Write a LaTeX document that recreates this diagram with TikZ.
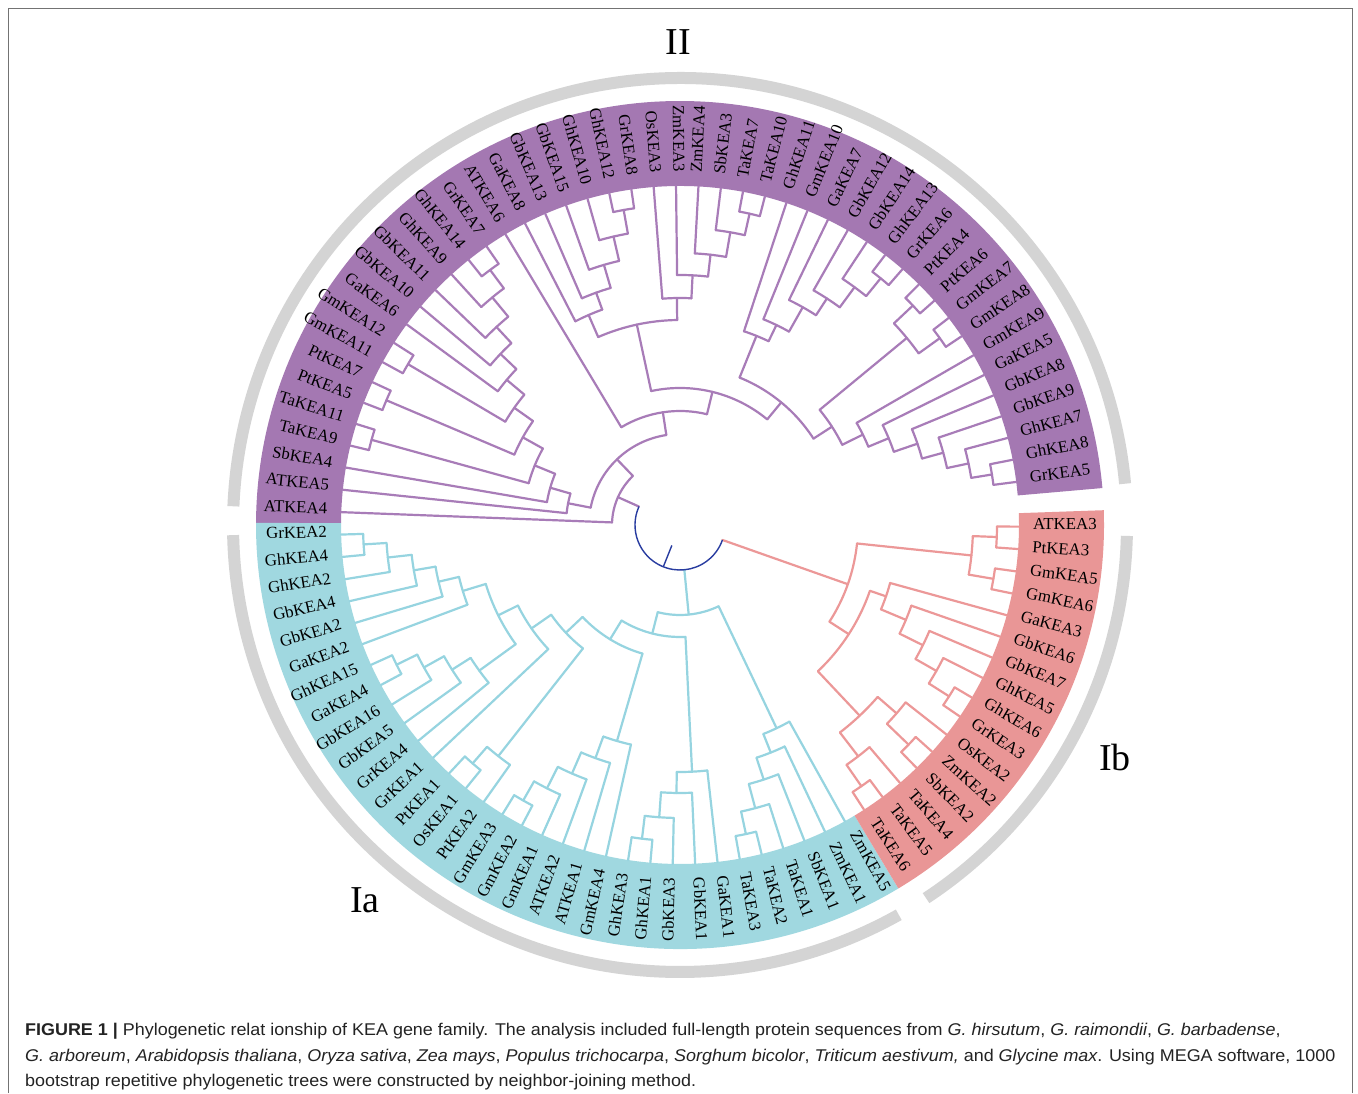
\documentclass[tikz,border=0pt]{standalone}
\usepackage{fontspec}
\setmainfont{Liberation Serif}
\newfontfamily\capfont{Liberation Sans}
\usepackage{graphicx}
\definecolor{purpB}{RGB}{164,120,178}
\definecolor{purpL}{RGB}{168,124,184}
\definecolor{cyanB}{RGB}{160,216,224}
\definecolor{cyanL}{RGB}{150,212,224}
\definecolor{pinkB}{RGB}{233,150,150}
\definecolor{pinkL}{RGB}{236,152,152}
\definecolor{rootB}{RGB}{40,60,160}
\definecolor{greyA}{RGB}{212,212,212}
\definecolor{capC}{RGB}{35,35,35}
\def\stp{3.78947}
\def\aoff{7.3}
\newcommand\tnd[4]{%
  \draw ({\aoff+\stp*(#2)}:#1pt) arc[start angle={\aoff+\stp*(#2)}, end angle={\aoff+\stp*(#3)}, radius=#1pt];
  \foreach \kk/\rr in {#4}{\draw ({\aoff+\stp*\kk}:#1pt) -- ({\aoff+\stp*\kk}:\rr pt);}%
}
\tikzset{
  lbl/.style={inner sep=0pt, font=\fontsize{16.8}{18}\selectfont, text=black},
  tree/.style={line width=2.2pt, line cap=round, line join=round},
  grarc/.style={draw=greyA, line width=12pt},
  clade/.style={font=\fontsize{38}{40}\selectfont, text=black, inner sep=0pt},
  captxt/.style={font=\capfont\fontsize{17}{20}\selectfont, text=capC, inner sep=0pt, anchor=base west}
}
\begin{document}
\begin{tikzpicture}[x=1pt,y=1pt]
\useasboundingbox (0,0) rectangle (1358,1093);
\fill[white] (0,0) rectangle (1358,1093);
% frame
\draw[line width=1pt, draw=black!55] (8,0) -- (8,1084) -- (1352,1084) -- (1352,0);
\begin{scope}[shift={(680,568)}]
% bands
\fill[purpB] (5.0:339pt) arc[start angle=5.0,end angle=179.7,radius=339pt] -- (179.7:424pt) arc[start angle=179.7,end angle=5.0,radius=424pt] -- cycle;
\fill[cyanB] (179.7:339pt) arc[start angle=179.7,end angle=301.0,radius=339pt] -- (301.0:424pt) arc[start angle=301.0,end angle=179.7,radius=424pt] -- cycle;
\fill[pinkB] (301.0:339pt) arc[start angle=301.0,end angle=362.0,radius=339pt] -- (362.0:424pt) arc[start angle=362.0,end angle=301.0,radius=424pt] -- cycle;
% grey arcs
\draw[grarc] (5.3:447pt) arc[start angle=5.3,end angle=177.6,radius=447pt];
\draw[grarc] (181.3:447pt) arc[start angle=181.3,end angle=299.3,radius=447pt];
\draw[grarc] (303.4:447pt) arc[start angle=303.4,end angle=358.6,radius=447pt];
% ---------- clade II (purple)
\begin{scope}[tree, draw=purpL]
\tnd{316}{0}{1}{0/339,1/339}
\tnd{295}{0.5}{2}{0.5/316,2/339}
\tnd{273}{1.25}{3}{1.25/295,3/339}
\tnd{251}{2.125}{4}{2.125/273,4/339}
\tnd{226}{3.0625}{5}{3.0625/251,5/339}
\tnd{204}{4.03125}{6}{4.03125/226,6/339}
\tnd{320}{7}{8}{7/339,8/339}
\tnd{320}{9}{10}{9/339,10/339}
\tnd{294}{7.5}{9.5}{7.5/320,9.5/320}
\tnd{181}{5.015625}{8.5}{5.015625/204,8.5/294}
\tnd{318}{11}{12}{11/339,12/339}
\tnd{295}{11.5}{13}{11.5/318,13/339}
\tnd{270}{12.25}{14}{12.25/295,14/339}
\tnd{250}{13.125}{15}{13.125/270,15/339}
\tnd{222}{14.0625}{16}{14.0625/250,16/339}
\tnd{204}{15.03125}{17}{15.03125/222,17/339}
\tnd{159}{6.7578}{16.0156}{6.7578/181,16.0156/204}
\tnd{319}{18}{19}{18/339,19/339}
\tnd{297}{18.5}{20}{18.5/319,20/339}
\tnd{272}{19.25}{21}{19.25/297,21/339}
\tnd{250}{20.125}{22}{20.125/272,22/339}
\tnd{227}{21.0625}{23}{21.0625/250,23/339}
\tnd{320}{24}{25}{24/339,25/339}
\tnd{296}{24.5}{26}{24.5/320,26/339}
\tnd{271}{25.25}{27}{25.25/296,27/339}
\tnd{247}{26.125}{28}{26.125/271,28/339}
\tnd{229}{27.0625}{29}{27.0625/247,29/339}
\tnd{205}{22.03125}{28.03125}{22.03125/227,28.03125/229}
\tnd{137}{11.3867}{25.03125}{11.3867/159,25.03125/205}
\tnd{114}{18.209}{30}{18.209/137,30/339}
\tnd{318}{31}{32}{31/339,32/339}
\tnd{295}{31.5}{33}{31.5/318,33/339}
\tnd{270}{32.25}{34}{32.25/295,34/339}
\tnd{248}{33.125}{35}{33.125/270,35/339}
\tnd{226}{34.0625}{36}{34.0625/248,36/339}
\tnd{316}{37}{38}{37/339,38/339}
\tnd{203}{35.03125}{37.5}{35.03125/226,37.5/316}
\tnd{319}{39}{40}{39/339,40/339}
\tnd{180}{36.2656}{39.5}{36.2656/203,39.5/319}
\tnd{320}{41}{42}{41/339,42/339}
\tnd{157}{37.8828}{41.5}{37.8828/180,41.5/320}
\tnd{135}{39.6914}{43}{39.6914/157,43/339}
\tnd{114}{41.3457}{44}{41.3457/135,44/339}
\tnd{91}{24.1045}{42.6729}{24.1045/114,42.6729/114}
\tnd{68}{33.3887}{45}{33.3887/91,45/339}
\draw ({\aoff+\stp*39.1943}:45pt) -- ({\aoff+\stp*39.1943}:68pt);
\end{scope}
% ---------- clade Ia (cyan)
\begin{scope}[tree, draw=cyanL]
\tnd{317}{46}{47}{46/339,47/339}
\tnd{294}{46.5}{48}{46.5/317,48/339}
\tnd{270}{47.25}{49}{47.25/294,49/339}
\tnd{248}{48.125}{50}{48.125/270,50/339}
\tnd{227}{49.0625}{51}{49.0625/248,51/339}
\tnd{316}{52}{53}{52/339,53/339}
\tnd{293}{52.5}{54}{52.5/316,54/339}
\tnd{270}{53.25}{55}{53.25/293,55/339}
\tnd{248}{54.125}{56}{54.125/270,56/339}
\tnd{203}{50.03125}{55.0625}{50.03125/227,55.0625/248}
\tnd{181}{52.546875}{57}{52.546875/203,57/339}
\tnd{316}{58}{59}{58/339,59/339}
\tnd{294}{58.5}{60}{58.5/316,60/339}
\tnd{157}{54.7734}{59.25}{54.7734/181,59.25/294}
\tnd{317}{61}{62}{61/339,62/339}
\tnd{295}{61.5}{63}{61.5/317,63/339}
\tnd{271}{62.25}{64}{62.25/295,64/339}
\tnd{248}{63.125}{65}{63.125/271,65/339}
\tnd{225}{64.0625}{66}{64.0625/248,66/339}
\tnd{134}{57.0117}{65.03125}{57.0117/157,65.03125/225}
\tnd{316}{67}{68}{67/339,68/339}
\tnd{293}{67.5}{69}{67.5/316,69/339}
\tnd{268}{68.25}{70}{68.25/293,70/339}
\tnd{247}{69.125}{71}{69.125/268,71/339}
\tnd{112}{61.0215}{70.0625}{61.0215/134,70.0625/247}
\tnd{316}{72}{73}{72/339,73/339}
\tnd{293}{72.5}{74}{72.5/316,74/339}
\tnd{268}{73.25}{75}{73.25/293,75/339}
\tnd{245}{74.125}{76}{74.125/268,76/339}
\tnd{225}{75.0625}{77}{75.0625/245,77/339}
\tnd{90}{65.542}{76.03125}{65.542/112,76.03125/225}
\draw ({\aoff+\stp*70.787}:45pt) -- ({\aoff+\stp*70.787}:90pt);
\end{scope}
% ---------- clade Ib (pink)
\begin{scope}[tree, draw=pinkL]
\tnd{317}{92}{93}{92/339,93/339}
\tnd{318}{90}{91}{90/339,91/339}
\tnd{293}{90.5}{92.5}{90.5/318,92.5/317}
\tnd{319}{84}{85}{84/339,85/339}
\tnd{295}{84.5}{86}{84.5/319,86/339}
\tnd{271}{85.25}{87}{85.25/295,87/339}
\tnd{245}{86.125}{88}{86.125/271,88/339}
\tnd{218}{87.0625}{89}{87.0625/245,89/339}
\tnd{317}{81}{82}{81/339,82/339}
\tnd{287}{81.5}{83}{81.5/317,83/339}
\tnd{318}{78}{79}{78/339,79/339}
\tnd{292}{78.5}{80}{78.5/318,80/339}
\tnd{262}{79.25}{82.25}{79.25/292,82.25/287}
\tnd{201}{80.75}{88.03125}{80.75/262,88.03125/218}
\tnd{178}{84.3906}{91.5}{84.3906/201,91.5/293}
\draw ({\aoff+\stp*87.945}:45pt) -- ({\aoff+\stp*87.945}:178pt);
\end{scope}
% ---------- root (blue)
\begin{scope}[line width=1.4pt, draw=rootB]
\draw ({\aoff+\stp*39.1943}:45pt) arc[start angle={\aoff+\stp*39.1943}, end angle={\aoff+\stp*87.945}, radius=45pt];
\draw ({\aoff+\stp*63.57}:45pt) -- ({\aoff+\stp*63.57}:22pt);
\end{scope}
% ---------- leaf labels
\foreach \nm [count=\i from 0] in {GrKEA5,GhKEA8,GhKEA7,GbKEA9,GbKEA8,GaKEA5,GmKEA9,GmKEA8,GmKEA7,PtKEA6,PtKEA4,GrKEA6,GhKEA13,GbKEA14,GbKEA12,GaKEA7,GmKEA10,GhKEA11,TaKEA10,TaKEA7,SbKEA3,ZmKEA4,ZmKEA3,OsKEA3,GrKEA8,GhKEA12,GhKEA10,GbKEA15,GbKEA13,GaKEA8,ATKEA6,GrKEA7,GhKEA14,GhKEA9,GbKEA11,GbKEA10,GaKEA6,GmKEA12,GmKEA11,PtKEA7,PtKEA5,TaKEA11,TaKEA9,SbKEA4,ATKEA5,ATKEA4,GrKEA2,GhKEA4,GhKEA2,GbKEA4,GbKEA2,GaKEA2,GhKEA15,GaKEA4,GbKEA16,GbKEA5,GrKEA4,GrKEA1,PtKEA1,OsKEA1,PtKEA2,GmKEA3,GmKEA2,GmKEA1,ATKEA2,ATKEA1,GmKEA4,GhKEA3,GhKEA1,GbKEA3,GbKEA1,GaKEA1,TaKEA3,TaKEA2,TaKEA1,SbKEA1,ZmKEA1,ZmKEA5,TaKEA6,TaKEA5,TaKEA4,SbKEA2,ZmKEA2,OsKEA2,GrKEA3,GhKEA6,GhKEA5,GbKEA7,GbKEA6,GaKEA3,GmKEA6,GmKEA5,PtKEA3,ATKEA3}{
  \pgfmathsetmacro\ang{\aoff+\stp*\i}
  \pgfmathtruncatemacro\side{cos(\ang)>=0}
  \ifnum\side=1
    \node[lbl, anchor=mid west, rotate=\ang] (leaf\i) at (\ang:353pt) {\nm};
  \else
    \pgfmathsetmacro\angb{\ang+180}
    \node[lbl, anchor=mid east, rotate=\angb] (leaf\i) at (\ang:353pt) {\nm};
  \fi
}
\end{scope}
% clade labels
\node[clade] (cII) at (678,1051) {II};
\node[clade] (cIa) at (365,193) {Ia};
\node[clade] (cIb) at (1115,335) {Ib};
% caption
\node[captxt] (cap1) at (25,57) {\scalebox{1.055}[1]{\textbf{FIGURE 1 |} Phylogenetic relat ionship of KEA gene family. The analysis included full-length protein sequences from \textit{G. hirsutum}, \textit{G. raimondii}, \textit{G. barbadense},}};
\node[captxt] (cap2) at (25,32) {\scalebox{1.055}[1]{\textit{G. arboreum}, \textit{Arabidopsis thaliana}, \textit{Oryza sativa}, \textit{Zea mays}, \textit{Populus trichocarpa}, \textit{Sorghum bicolor}, \textit{Triticum aestivum,} and \textit{Glycine max}. Using MEGA software, 1000}};
\node[captxt] (cap3) at (25,7) {\scalebox{1.055}[1]{bootstrap repetitive phylogenetic trees were constructed by neighbor-joining method.}};
\end{tikzpicture}
\end{document}
